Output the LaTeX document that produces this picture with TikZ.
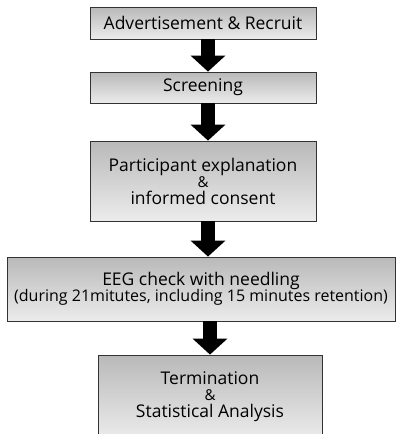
\documentclass[tikz,border=0pt]{standalone}
\usepackage{fontspec}
\setmainfont{Open Sans}
\usetikzlibrary{arrows.meta}

\tikzset{
  stepbox/.style={draw=black!80, line width=0.8pt, top color=gray!55, bottom color=gray!15,
    minimum width=226pt, inner sep=0pt, align=center, font=\fontsize{17.5}{21}\selectfont},
  flow/.style={line width=14pt, -{Triangle[width=34pt,length=16pt]}}
}
\newcommand{\amp}{{\fontsize{15}{16}\selectfont\&}}

\begin{document}
\begin{tikzpicture}[x=1pt,y=-1pt]
  \useasboundingbox (0,0) rectangle (398,434);
  \clip (0,0) rectangle (398,434);

  % Boxes
  \node[stepbox, minimum height=32pt] (recruit) at (203,23) {Advertisement \& Recruit};
  \node[stepbox, minimum height=31pt] (screen) at (203,87.5) {Screening};
  \node[stepbox, minimum height=80pt] (consent) at (203,181)
    {Participant explanation\\[-5pt]\amp\\[-4pt]informed consent};
  \node[stepbox, minimum width=388pt, minimum height=64pt] (eeg) at (201,289)
    {EEG check with needling\\[-5pt]{\fontsize{16}{19}\selectfont(during 21mitutes, including 15 minutes retention)}};
  \node[stepbox, minimum width=224pt, minimum height=84pt] (term) at (210,397)
    {Termination\\[-5pt]\amp\\[-4pt]Statistical Analysis};

  % Arrows
  \draw[flow] ([xshift=5pt]recruit.south) -- ([xshift=5pt]screen.north);
  \draw[flow] ([xshift=5pt]screen.south) -- ([xshift=5pt]consent.north);
  \draw[flow] ([xshift=5pt]consent.south) -- ([xshift=5pt]consent.south |- eeg.north);
  \draw[flow] (term.north |- eeg.south) -- (term.north);
\end{tikzpicture}
\end{document}
